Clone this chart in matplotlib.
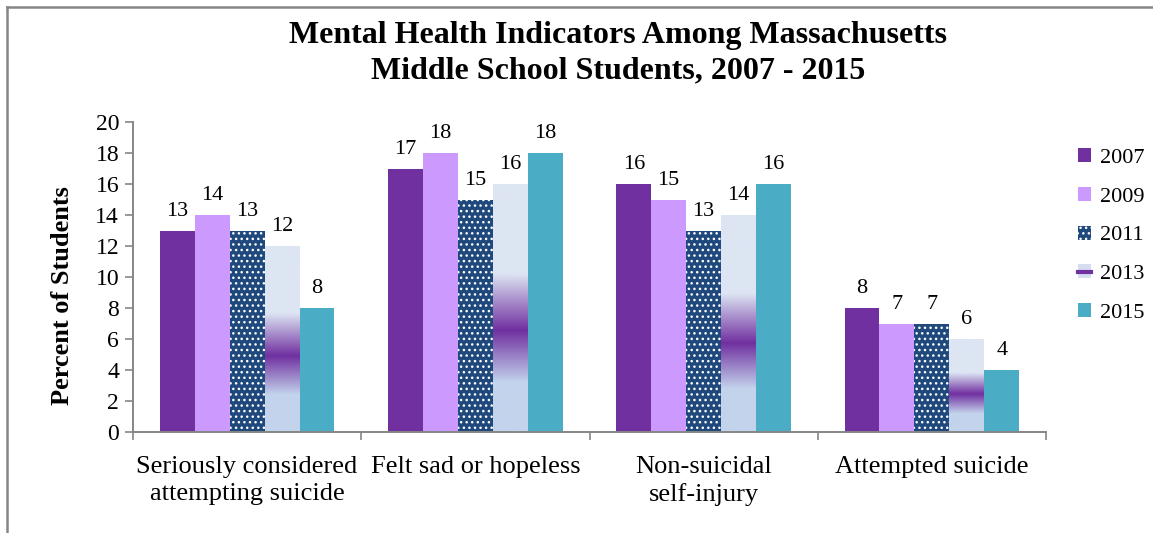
import matplotlib
matplotlib.use("Agg")
from matplotlib import pyplot as plt
from matplotlib.colors import LinearSegmentedColormap
from matplotlib.patches import Patch
from matplotlib.lines import Line2D
from matplotlib.legend_handler import HandlerTuple
import numpy as np

categories = ["Seriously considered\nattempting suicide", "Felt sad or hopeless",
              "Non-suicidal\nself-injury", "Attempted suicide"]
years = ["2007", "2009", "2011", "2013", "2015"]
v2007 = [13, 17, 16, 8]
v2009 = [14, 18, 15, 7]
v2011 = [13, 15, 13, 7]
v2013 = [12, 16, 14, 6]
v2015 = [8, 18, 16, 4]
series = [v2007, v2009, v2011, v2013, v2015]

plt.rcParams['font.family'] = ['Liberation Serif', 'DejaVu Serif']
plt.rcParams['hatch.linewidth'] = 1.0

grey = '#868686'
colors = ['#7030a0', '#cc99ff', '#1f497d', '#dde5f3', '#4bacc6']
grad = LinearSegmentedColormap.from_list('g13', [(0, '#c3d3ec'), (0.2, '#c3d3ec'),
                                                 (0.41, '#7030a0'), (0.64, '#dde5f3'),
                                                 (1, '#dde5f3')])

fig = plt.figure(figsize=(11.53, 5.33), dpi=100)
ax = fig.add_axes([133/1153, 101/533, 913/1153, 310/533])

x = np.arange(len(categories))
w = 0.153
for i, vals in enumerate(series):
    pos = x + (i - 2) * w
    if i == 2:
        bars = ax.bar(pos, vals, w, color=colors[i], edgecolor='white', linewidth=0,
                      hatch='...', zorder=2)
    else:
        bars = ax.bar(pos, vals, w, color=colors[i], linewidth=0, zorder=2)
    if i == 3:
        for b in bars:
            x0, h = b.get_x(), b.get_height()
            im = ax.imshow(np.linspace(0, 1, 256).reshape(-1, 1), cmap=grad, origin='lower',
                           extent=[x0, x0 + w, 0, h], aspect='auto', zorder=2.5)
            im.set_clip_path(b)
    ax.bar_label(bars, padding=7, fontsize=16)

ax.set_xlim(-0.5, 3.5)
ax.set_ylim(0, 20)
ax.set_yticks(range(0, 21, 2))
ax.set_xticks(x)
ax.set_xticklabels(categories, fontsize=19, linespacing=1.3)
ax.set_xticks(np.arange(-0.5, 3.6, 1), minor=True)
ax.tick_params(axis='x', which='major', length=0, pad=17)
ax.tick_params(axis='x', which='minor', length=6, color=grey, width=1.2)
ax.tick_params(axis='y', length=6, color=grey, width=1.2, labelsize=17, pad=4)
for s in ['top', 'right']:
    ax.spines[s].set_visible(False)
for s in ['left', 'bottom']:
    ax.spines[s].set_color(grey)
    ax.spines[s].set_linewidth(1.4)
ax.set_ylabel("Percent of Students", fontsize=19, fontweight='bold')
ax.yaxis.set_label_coords(-0.065, 0.44)

handles = [Patch(facecolor=colors[0]), Patch(facecolor=colors[1]),
           Patch(facecolor=colors[2], edgecolor='white', linewidth=0, hatch='...'),
           (Patch(facecolor='#d5def0'), Line2D([], [], color='#7030a0', lw=3)),
           Patch(facecolor=colors[4])]
fig.legend(handles, years, loc='upper left', bbox_to_anchor=(1058/1153, 1 - 128/533),
           frameon=False, fontsize=16, handlelength=0.6, handleheight=0.6,
           handletextpad=0.4, labelspacing=0.85,
           handler_map={tuple: HandlerTuple(ndivide=1)})

fig.text(0.536, 1 - 21/533, "Mental Health Indicators Among Massachusetts\nMiddle School Students, 2007 - 2015",
         ha='center', va='top', fontsize=23, fontweight='bold', linespacing=1.3)

fig.add_artist(Line2D([7/1153, 7/1153], [0, 1 - 7/533], transform=fig.transFigure, color=grey, lw=1.8))
fig.add_artist(Line2D([7/1153, 1], [1 - 7/533, 1 - 7/533], transform=fig.transFigure, color=grey, lw=1.8))

fig.savefig("out.png", dpi=100)
